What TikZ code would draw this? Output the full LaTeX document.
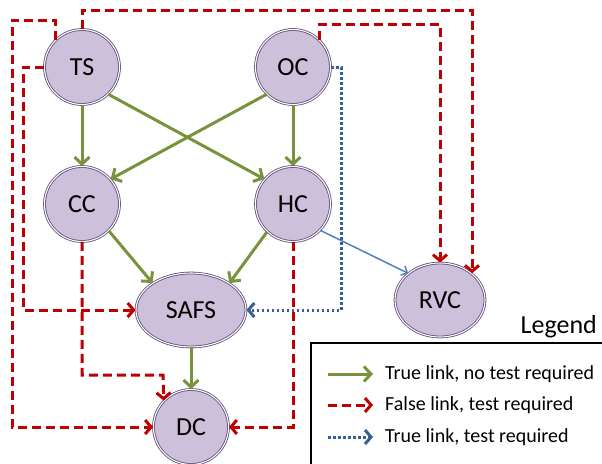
\documentclass[tikz,border=0pt]{standalone}
\usepackage{fontspec}
\setmainfont{Carlito}
\usetikzlibrary{arrows.meta,shapes.geometric}
\definecolor{nodefill}{HTML}{CCC0DA}
\definecolor{nodeline}{HTML}{5F497A}
\definecolor{tgreen}{HTML}{77933C}
\definecolor{fred}{HTML}{C00000}
\definecolor{tblue}{HTML}{376092}
\definecolor{lblue}{HTML}{4F81BD}
\begin{document}
\begin{tikzpicture}[x=1pt,y=-1pt,
  basenode/.style={draw=nodeline, line width=0.8pt, double=white, double distance=1.1pt,
    fill=nodefill, inner sep=0pt, font=\fontsize{26}{30}\selectfont},
  circnode/.style={basenode, circle, minimum size=75pt},
  ellnode/.style={basenode, ellipse, minimum height=74pt},
  truel/.style={draw=tgreen, line width=3pt, -{Straight Barb[length=7pt,width=15pt]}},
  falsel/.style={draw=fred, line width=3pt, dash pattern=on 9pt off 5pt, -{Straight Barb[length=6pt,width=14pt]}},
  testl/.style={draw=tblue, line width=3pt, dash pattern=on 2.6pt off 2.4pt, -{Straight Barb[length=6pt,width=14pt]}},
  thinl/.style={draw=lblue, line width=1.5pt, -{Straight Barb[length=5pt,width=10pt]}},
  legtext/.style={anchor=west, inner sep=0pt, font=\fontsize{20}{24}\selectfont},
]
\path[use as bounding box] (0,0) rectangle (602,463);
\clip (0,0) rectangle (602,463);

% nodes
\node[circnode] (TS) at (82,67) {TS};
\node[circnode] (OC) at (293,67) {OC};
\node[circnode] (CC) at (82,204) {CC};
\node[circnode] (HC) at (293,204) {HC};
\node[ellnode, minimum width=110pt] (SAFS) at (191,310) {SAFS};
\node[circnode] (DC) at (191,427) {DC};
\node[ellnode, minimum width=90pt] (RVC) at (440,300) {RVC};

% green true links
\draw[truel] (TS.south) -- (CC.north);
\draw[truel] (OC.south) -- (HC.north);
\draw[truel] (TS.-46) -- (HC.139);
\draw[truel] (OC.226) -- (CC.41);
\draw[truel] (CC.-45) -- (SAFS.145);
\draw[truel] (HC.227) -- (SAFS.35);
\draw[truel] (SAFS.south) -- (DC.north);

% blue thin link
\draw[thinl] (HC.-44) -- (RVC.140);

% red dashed links
\coordinate (a1) at (12,20);
\draw[falsel] (TS.135) |- (a1) |- (DC.west);
\coordinate (b1) at (23,67);
\draw[falsel] (TS.west) -- (b1) |- (SAFS.west);
\coordinate (c1) at (472,10);
\draw[falsel] (TS.north) |- (c1) -- (c1 |- RVC.40);
\coordinate (d1) at (440,24);
\draw[falsel] (OC.45) |- (d1) -- (RVC.north);
\coordinate (e1) at (163,375);
\draw[falsel] (CC.south) |- (e1) -- (DC.136);
\draw[falsel] (HC.south) |- (DC.east);

% blue dotted link
\coordinate (f1) at (341,67);
\draw[testl] (OC.east) -- (f1) |- (SAFS.east);

% legend
\node[anchor=east, inner sep=0pt, font=\fontsize{26}{30}\selectfont] (legtitle) at (597,327) {Legend};
\draw[line width=1.5pt] (311,343) rectangle (640,500);
\coordinate (g1s) at (328,374); \coordinate (g1e) at (373,374);
\draw[truel] (g1s) -- (g1e);
\node[legtext] (t1) at (385,374) {True link, no test required};
\coordinate (g2s) at (328,405); \coordinate (g2e) at (373,405);
\draw[falsel] (g2s) -- (g2e);
\node[legtext] (t2) at (385,405) {False link, test required};
\coordinate (g3s) at (328,437); \coordinate (g3e) at (373,437);
\draw[testl] (g3s) -- (g3e);
\node[legtext] (t3) at (385,437) {True link, test required};
\end{tikzpicture}
\end{document}
